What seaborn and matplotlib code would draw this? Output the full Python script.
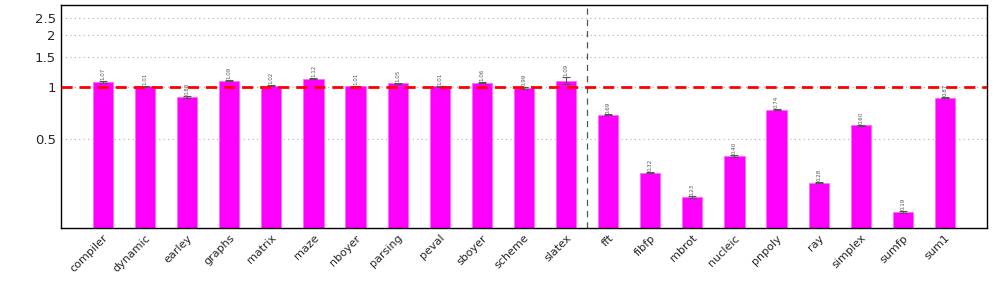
import numpy as np
import pandas as pd
import seaborn as sns
import matplotlib
matplotlib.use("Agg")
import matplotlib.pyplot as plt
from matplotlib.ticker import FixedLocator, NullLocator, FixedFormatter

benchmarks = ["compiler", "dynamic", "earley", "graphs", "matrix", "maze", "nboyer",
              "parsing", "peval", "sboyer", "scheme", "slatex",
              "fft", "fibfp", "mbrot", "nucleic", "pnpoly", "ray", "simplex",
              "sumfp", "sum1"]
speedup = [1.07, 1.01, 0.88, 1.09, 1.02, 1.12, 1.01, 1.05, 1.01, 1.06, 0.99, 1.09,
           0.69, 0.32, 0.23, 0.40, 0.74, 0.28, 0.60, 0.19, 0.87]
errors = [0.01, 0.01, 0.01, 0.01, 0.01, 0.01, 0.01, 0.01, 0.01, 0.01, 0.01, 0.05,
          0.005, 0.003, 0.003, 0.004, 0.007, 0.003, 0.006, 0.002, 0.008]
yticks = [0.5, 1, 1.5, 2, 2.5]
ytick_labels = ["0.5", "1", "1.5", "2", "2.5"]

df = pd.DataFrame({"benchmark": benchmarks, "speedup": speedup})

sns.set_style("white")
plt.rcParams['font.family'] = ['DejaVu Sans']

fig, ax = plt.subplots(figsize=(9.97, 2.85), dpi=100)
fig.subplots_adjust(left=0.061, right=0.99, top=0.982, bottom=0.2)

sns.barplot(data=df, x="benchmark", y="speedup", color="#ff00ff", width=0.48,
            saturation=1, edgecolor="#ff66ff", linewidth=0.6, ax=ax, zorder=2)
ax.errorbar(np.arange(len(benchmarks)), speedup, yerr=errors, fmt="none",
            ecolor="#555555", elinewidth=0.8, capsize=3, capthick=0.8, zorder=3)

for i, (v, e) in enumerate(zip(speedup, errors)):
    ax.text(i, (v + e) * 1.012, f"{v:.2f}", rotation=90, ha="center", va="bottom",
            fontsize=4, color="#555555", zorder=4)

ax.set_yscale("log")
ax.set_ylim(0.153, 2.98)
ax.set_xlim(-1, len(benchmarks))
ax.yaxis.set_major_locator(FixedLocator(yticks))
ax.yaxis.set_major_formatter(FixedFormatter(ytick_labels))
ax.yaxis.set_minor_locator(NullLocator())

for t in yticks:
    ax.axhline(t, color="#aaaaaa", linestyle=(0, (1, 3)), linewidth=0.8, zorder=0)
ax.axhline(1, color="red", linestyle=(0, (4, 2.5)), linewidth=2, zorder=5)
ax.axvline(11.5, color="#555555", linestyle=(0, (5, 4)), linewidth=0.9, zorder=1)

ax.set_xlabel("")
ax.set_ylabel("")
ax.tick_params(axis="y", direction="in", length=4, width=0.8, labelsize=9.5, color="#333333")
ax.tick_params(axis="x", length=0, labelsize=8)
plt.setp(ax.get_xticklabels(), rotation=45, ha="right", rotation_mode="anchor")
for s in ax.spines.values():
    s.set_color("black")
    s.set_linewidth(1)

fig.savefig("out.png", dpi=100)
